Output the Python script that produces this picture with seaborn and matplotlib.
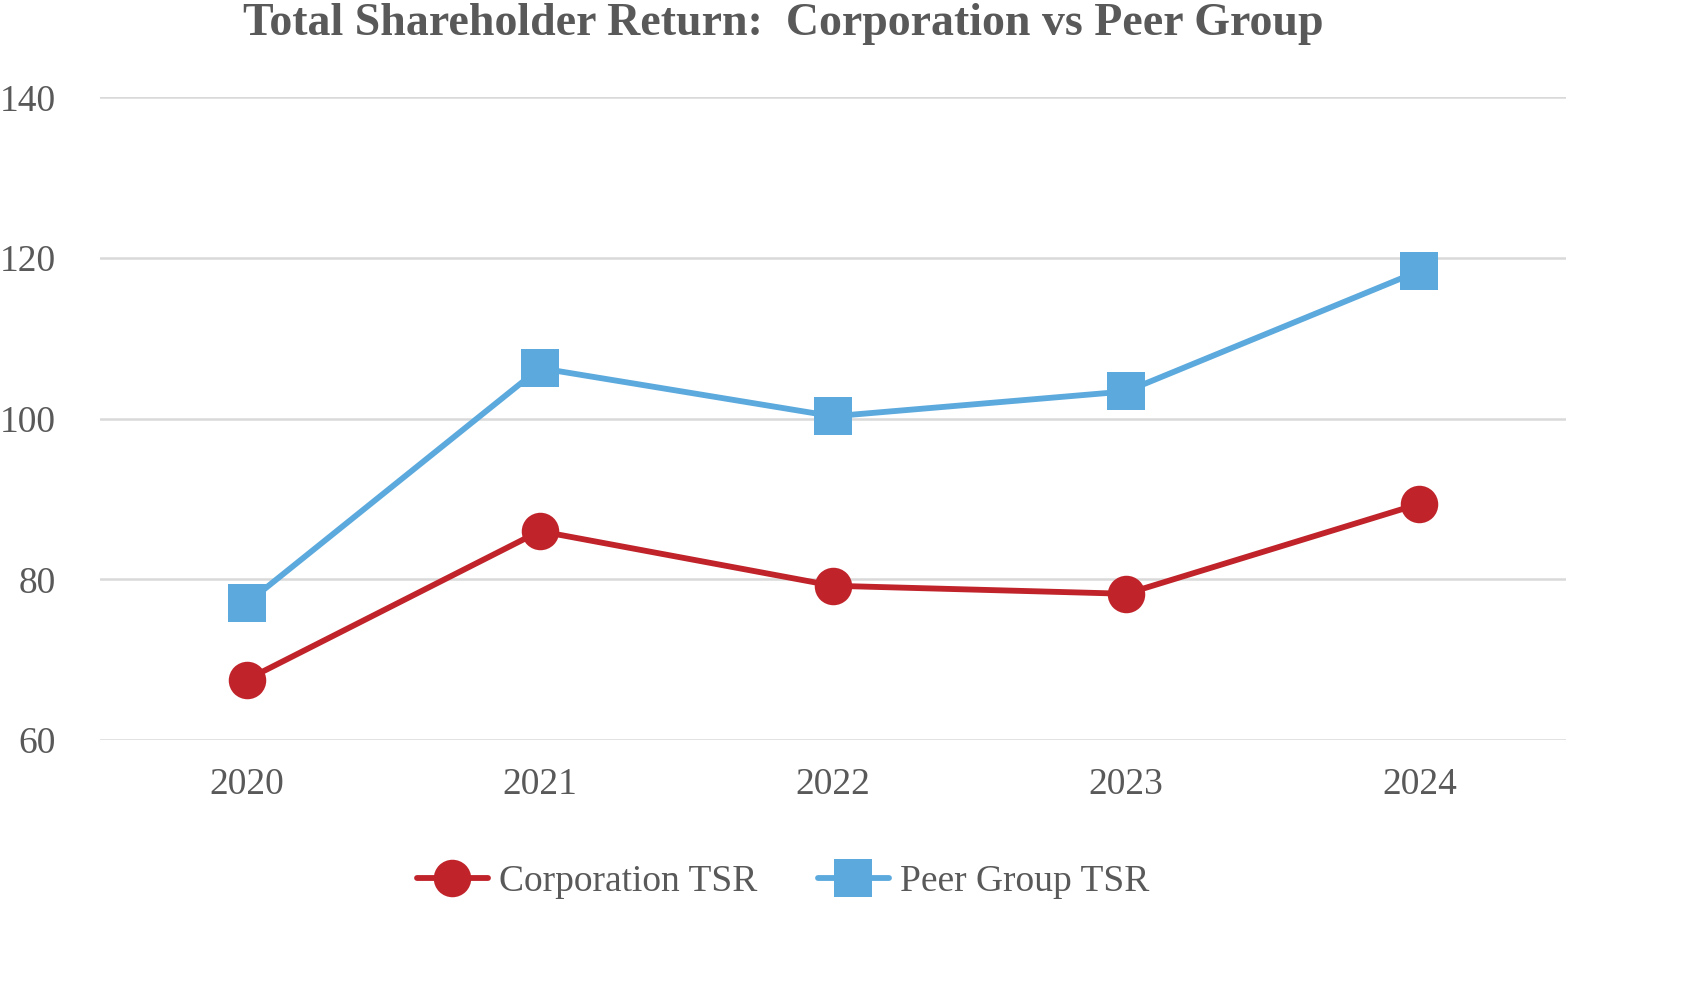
import pandas as pd
import matplotlib.pyplot as plt
import seaborn as sns

# Data
years = ["2020", "2021", "2022", "2023", "2024"]
corporation_tsr = [67.5, 86.0, 79.2, 78.2, 89.4]
peer_group_tsr = [77.0, 106.3, 100.3, 103.4, 118.4]
series_names = ["Corporation TSR", "Peer Group TSR"]

df = pd.DataFrame({
    "Year": years * 2,
    "TSR": corporation_tsr + peer_group_tsr,
    "Series": [series_names[0]] * len(years) + [series_names[1]] * len(years),
})

sns.set_theme(style="white")
plt.rcParams["font.family"] = ["Liberation Serif", "DejaVu Serif"]

text_color = "#595959"
red = "#C0232A"
blue = "#5BA9DD"

fig = plt.figure(figsize=(17.06, 9.84), dpi=100)
ax = fig.add_axes([0.0586, 0.248, 0.8594, 0.653])

sns.lineplot(
    data=df,
    x="Year",
    y="TSR",
    hue="Series",
    style="Series",
    palette=[red, blue],
    markers=["o", "s"],
    dashes=False,
    linewidth=4.2,
    markersize=27,
    markeredgewidth=0,
    ax=ax,
)

# Axes styling
ax.set_ylim(60, 140)
ax.set_xlim(-0.5, 4.5)
ax.set_yticks([60, 80, 100, 120, 140])
ax.yaxis.grid(True, color="#D9D9D9", linewidth=1.8)
ax.set_axisbelow(True)
for spine in ax.spines.values():
    spine.set_visible(False)
ax.tick_params(axis="y", length=0, pad=32, labelsize=27, labelcolor=text_color)
ax.tick_params(axis="x", length=0, pad=20, labelsize=27, labelcolor=text_color)
ax.set_xlabel("")
ax.set_ylabel("")

fig.suptitle(
    "Total Shareholder Return:  Corporation vs Peer Group",
    x=0.459, y=0.997,
    fontsize=33,
    fontweight="bold",
    color=text_color,
    va="top",
)

handles, labels = ax.get_legend_handles_labels()
ax.legend(
    handles, labels,
    loc="center",
    bbox_to_anchor=(0.459, 0.104),
    bbox_transform=fig.transFigure,
    ncol=2,
    frameon=False,
    fontsize=27,
    labelcolor=text_color,
    handlelength=1.9,
    handletextpad=0.3,
    columnspacing=1.6,
)

plt.savefig("out.png", dpi=100)
plt.close()
